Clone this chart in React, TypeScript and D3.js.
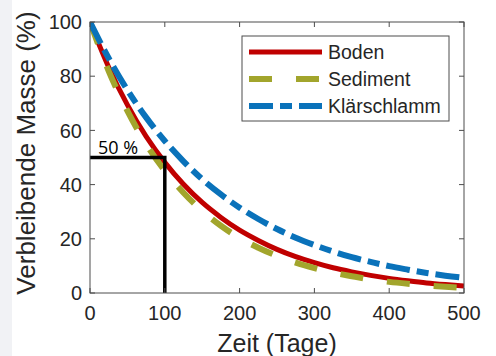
import { useEffect, useRef } from "react"
import * as d3 from "d3"

// Tage (x-Achse)
const days = [0, 25, 50, 75, 100, 125, 150, 175, 200, 225, 250, 275, 300, 325, 350, 375, 400, 425, 450, 475, 500]

// verbleibende Masse (%) je Matrix
const boden = [100, 83.3, 69.4, 57.8, 48.2, 40.1, 33.4, 27.9, 23.2, 19.4, 16.1, 13.4, 11.2, 9.3, 7.8, 6.5, 5.4, 4.5, 3.7, 3.1, 2.6]
const sediment = [100, 81.9, 67.2, 55.0, 45.1, 37.0, 30.3, 24.8, 20.3, 16.7, 13.7, 11.2, 9.2, 7.5, 6.2, 5.0, 4.1, 3.4, 2.8, 2.3, 1.9]
const klaerschlamm = [100, 86.6, 74.9, 64.8, 56.1, 48.6, 42.0, 36.4, 31.5, 27.3, 23.6, 20.4, 17.7, 15.3, 13.2, 11.5, 9.9, 8.6, 7.4, 6.4, 5.6]

// Halbwertsmarke
const halfDay = 100
const halfValue = 50

const xTicks = [0, 100, 200, 300, 400, 500]
const yTicks = [0, 20, 40, 60, 80, 100]

export default function App() {
  const svgRef = useRef<SVGSVGElement | null>(null)

  useEffect(() => {
    if (!svgRef.current) return
    const svg = d3.select(svgRef.current)
    svg.selectAll("*").remove()

    const width = 496
    const height = 356
    const margin = { top: 22, right: 32, bottom: 63, left: 90 }
    const innerWidth = width - margin.left - margin.right
    const innerHeight = height - margin.top - margin.bottom
    const axisColor = "#4d4d4d"
    const textColor = "#262626"
    const font = "'Liberation Sans', Arial, sans-serif"

    svg.append("rect").attr("width", width).attr("height", height).attr("fill", "#fff")
    svg.append("rect").attr("width", 12).attr("height", height).attr("fill", "#f1f2f5")

    const x = d3.scaleLinear().domain([0, 500]).range([0, innerWidth])
    const y = d3.scaleLinear().domain([0, 100]).range([innerHeight, 0])

    const g = svg.append("g").attr("transform", `translate(${margin.left},${margin.top})`)

    g.append("clipPath").attr("id", "plot-clip")
      .append("rect").attr("width", innerWidth).attr("height", innerHeight)

    // Kurven
    const series = [
      { name: "Boden", values: boden, color: "#c00000", width: 5, dash: null },
      { name: "Sediment", values: sediment, color: "#a2a52c", width: 6, dash: "23,24" },
      { name: "Klärschlamm", values: klaerschlamm, color: "#0a72ba", width: 6, dash: "24,7,12,7" },
    ]

    const line = d3
      .line<number>()
      .x((_, i) => x(days[i]))
      .y((d) => y(d))
      .curve(d3.curveMonotoneX)

    const curves = g.append("g").attr("clip-path", "url(#plot-clip)")
    series.forEach((s) => {
      curves.append("path")
        .datum(s.values)
        .attr("fill", "none")
        .attr("stroke", s.color)
        .attr("stroke-width", s.width)
        .attr("stroke-dasharray", s.dash)
        .attr("d", line)
    })

    // 50 % Markierung
    g.append("path")
      .attr("fill", "none")
      .attr("stroke", "#000")
      .attr("stroke-width", 3.5)
      .attr("d", `M${x(0)},${y(halfValue)}H${x(halfDay)}V${y(0)}`)

    g.append("text")
      .attr("x", x(0) + 8)
      .attr("y", y(halfValue) - 4)
      .attr("font-family", "'Open Sans', sans-serif")
      .attr("font-size", 18)
      .attr("fill", "#000")
      .text("50 %")

    // Rahmen + Ticks (innen, alle Seiten)
    g.append("rect")
      .attr("width", innerWidth)
      .attr("height", innerHeight)
      .attr("fill", "none")
      .attr("stroke", axisColor)
      .attr("stroke-width", 1)

    const tickLen = 5
    xTicks.forEach((t) => {
      g.append("line").attr("x1", x(t)).attr("x2", x(t)).attr("y1", innerHeight).attr("y2", innerHeight - tickLen).attr("stroke", axisColor)
      g.append("line").attr("x1", x(t)).attr("x2", x(t)).attr("y1", 0).attr("y2", tickLen).attr("stroke", axisColor)
      g.append("text")
        .attr("x", x(t))
        .attr("y", innerHeight + 27)
        .attr("text-anchor", "middle")
        .attr("font-family", font)
        .attr("font-size", 20)
        .attr("fill", textColor)
        .text(t)
    })
    yTicks.forEach((t) => {
      g.append("line").attr("x1", 0).attr("x2", tickLen).attr("y1", y(t)).attr("y2", y(t)).attr("stroke", axisColor)
      g.append("line").attr("x1", innerWidth).attr("x2", innerWidth - tickLen).attr("y1", y(t)).attr("y2", y(t)).attr("stroke", axisColor)
      g.append("text")
        .attr("x", -8)
        .attr("y", y(t))
        .attr("dy", "0.36em")
        .attr("text-anchor", "end")
        .attr("font-family", font)
        .attr("font-size", 20)
        .attr("fill", textColor)
        .text(t)
    })

    // Achsentitel
    svg.append("text")
      .attr("x", margin.left + innerWidth / 2)
      .attr("y", 352)
      .attr("text-anchor", "middle")
      .attr("font-family", font)
      .attr("font-size", 25)
      .attr("fill", textColor)
      .text("Zeit (Tage)")

    svg.append("text")
      .attr("transform", `translate(35,153) rotate(-90)`)
      .attr("text-anchor", "middle")
      .attr("font-family", font)
      .attr("font-size", 26)
      .attr("fill", textColor)
      .text("Verbleibende Masse (%)")

    // Legende
    const legend = svg.append("g").attr("transform", "translate(242,36)")
    legend.append("rect")
      .attr("width", 207)
      .attr("height", 85)
      .attr("fill", "#fff")
      .attr("stroke", axisColor)
      .attr("stroke-width", 1)

    series.forEach((s, i) => {
      const ly = 16 + i * 27
      legend.append("line")
        .attr("x1", 7)
        .attr("x2", 80)
        .attr("y1", ly)
        .attr("y2", ly)
        .attr("stroke", s.color)
        .attr("stroke-width", s.width)
        .attr("stroke-dasharray", s.dash)
      legend.append("text")
        .attr("x", 86)
        .attr("y", ly)
        .attr("dy", "0.36em")
        .attr("font-family", font)
        .attr("font-size", 19.5)
        .attr("fill", textColor)
        .text(s.name)
    })
  }, [])

  return (
    <svg
      ref={svgRef}
      width={496}
      height={356}
      style={{ position: "absolute", left: 0, top: 0, display: "block" }}
    />
  )
}
